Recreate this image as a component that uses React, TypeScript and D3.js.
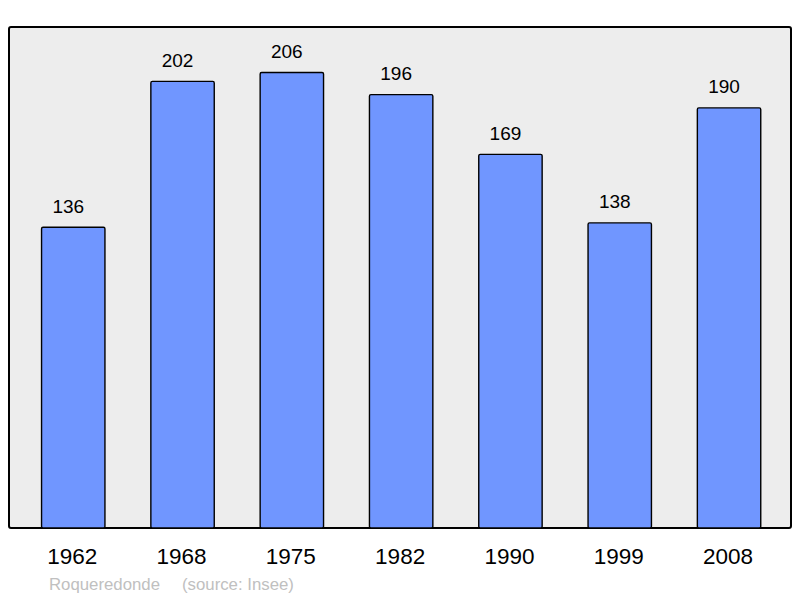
import React, { useEffect, useRef } from "react";
import * as d3 from "d3";

// population by census year
const years = ["1962", "1968", "1975", "1982", "1990", "1999", "2008"];
const population = [136, 202, 206, 196, 169, 138, 190];
const placeName = "Roqueredonde";
const sourceLabel = "(source: Insee)";

const drawChart = (svgEl: SVGSVGElement) => {
	const width = 800,
		height = 598;
	const panel = { left: 9, top: 27, right: 791, bottom: 528 };

	const svg = d3.select(svgEl);
	svg.selectAll("*").remove();
	svg.attr("width", width).attr("height", height);

	svg
		.append("rect")
		.attr("x", panel.left)
		.attr("y", panel.top)
		.attr("width", panel.right - panel.left)
		.attr("height", panel.bottom - panel.top)
		.attr("rx", 2)
		.attr("fill", "#ededed")
		.attr("stroke", "#000")
		.attr("stroke-width", 2);

	const x = d3
		.scaleBand()
		.domain(years)
		.range([18.6, 783.7])
		.paddingInner(0.42)
		.paddingOuter(0.21);

	const y = d3
		.scaleLinear()
		.domain([0, (d3.max(population) as number) * 1.1])
		.range([panel.bottom, panel.top]);

	const data = years.map((yr, i) => ({ year: yr, value: population[i] }));

	const bars = svg.append("g").attr("class", "bars");
	bars
		.selectAll("rect")
		.data(data)
		.enter()
		.append("rect")
		.attr("x", (d) => x(d.year) as number)
		.attr("y", (d) => y(d.value))
		.attr("width", x.bandwidth())
		.attr("height", (d) => panel.bottom - y(d.value))
		.attr("rx", 1.5)
		.attr("fill", "#7096ff")
		.attr("stroke", "#000")
		.attr("stroke-width", 1.4);

	// value labels above bars
	svg
		.append("g")
		.selectAll("text")
		.data(data)
		.enter()
		.append("text")
		.attr("x", (d) => (x(d.year) as number) + x.bandwidth() / 2 - 5)
		.attr("y", (d) => y(d.value) - 14.5)
		.attr("text-anchor", "middle")
		.attr("font-family", "Liberation Sans, Arial, sans-serif")
		.attr("font-size", "19px")
		.attr("fill", "#000")
		.text((d) => d.value);

	// year labels
	svg
		.append("g")
		.selectAll("text")
		.data(years)
		.enter()
		.append("text")
		.attr("x", (d) => (x(d) as number) + x.bandwidth() / 2 - 1)
		.attr("y", 564)
		.attr("text-anchor", "middle")
		.attr("font-family", "Liberation Sans, Arial, sans-serif")
		.attr("font-size", "22.5px")
		.attr("fill", "#000")
		.text((d) => d);

	const foot = svg
		.append("text")
		.attr("x", 49)
		.attr("y", 589.5)
		.attr("font-family", "Liberation Sans, Arial, sans-serif")
		.attr("font-size", "16.8px")
		.attr("fill", "#c0c0c0");
	foot.append("tspan").text(placeName);
	foot.append("tspan").attr("x", 182).text(sourceLabel);
};

const App = () => {
	const svg = useRef<SVGSVGElement>(null);

	useEffect(() => {
		if (svg.current) drawChart(svg.current);
	}, []);

	return (
		<div style={{ position: "absolute", left: 0, top: 0 }}>
			<svg ref={svg} style={{ display: "block" }} />
		</div>
	);
};

export default App;
